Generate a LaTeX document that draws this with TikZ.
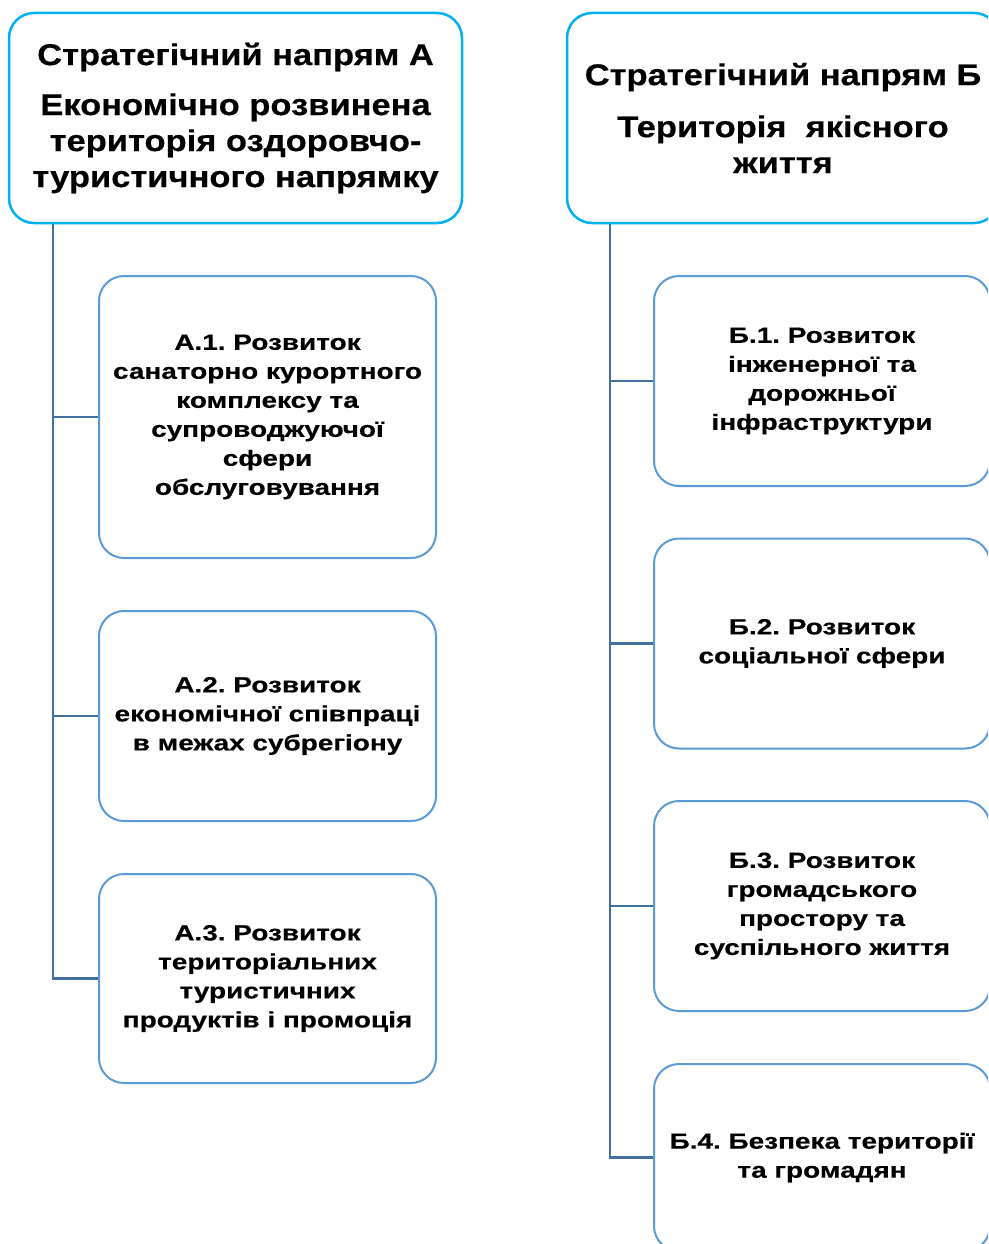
\documentclass[tikz,border=0pt]{standalone}
\usepackage{fontspec}
\setmainfont{Liberation Sans}
\newfontfamily\hdrfont[FakeStretch=1.15,FakeBold=0.4]{Liberation Sans Bold}
\newfontfamily\subfont[FakeStretch=1.27,FakeBold=0.4]{Liberation Sans Bold}
\definecolor{hdrc}{RGB}{0,176,240}
\definecolor{boxc}{RGB}{91,155,213}
\definecolor{conc}{RGB}{65,113,156}
\tikzset{
  hdr/.style={draw=hdrc, line width=2.5pt, rounded corners=25pt, align=center, inner sep=0pt, font=\hdrfont\fontsize{30}{36}\selectfont\frenchspacing},
  sub/.style={draw=boxc, line width=2pt, rounded corners=25pt, align=center, inner sep=0pt, font=\subfont\fontsize{22}{29}\selectfont\frenchspacing},
  conn/.style={draw=conc, line width=2.5pt}
}
\begin{document}
\begin{tikzpicture}[x=1pt,y=-1pt]
\useasboundingbox (0,0) rectangle (988,1244);
\clip (0,0) rectangle (988,1244);
\fill[white] (0,0) rectangle (988,1244);
% headers
\node[hdr, minimum width=453pt, minimum height=210pt] (hA) at (235.5,118) {Стратегічний напрям А\\[14pt] Економічно розвинена\\територія оздоровчо-\\туристичного напрямку};
\node[hdr, minimum width=432pt, minimum height=210pt] (hB) at (783,118) {Стратегічний напрям Б\\[16pt]Територія\ \ якісного\\життя};
% left children
\node[sub, minimum width=337pt, minimum height=282pt] (a1) at (267.5,417) {А.1. Розвиток\\санаторно курортного\\комплексу та\\супроводжуючої\\сфери\\обслуговування};
\node[sub, minimum width=337pt, minimum height=210pt] (a2) at (267.5,716) {А.2. Розвиток\\економічної співпраці\\в межах субрегіону};
\node[sub, minimum width=337pt, minimum height=209pt] (a3) at (267.5,978.5) {А.3. Розвиток\\територіальних\\туристичних\\продуктів і промоція};
% right children
\node[sub, minimum width=336pt, minimum height=210pt] (b1) at (822,381) {Б.1. Розвиток\\інженерної та\\дорожньої\\інфраструктури};
\node[sub, minimum width=336pt, minimum height=210pt] (b2) at (822,643.5) {Б.2. Розвиток\\соціальної сфери};
\node[sub, minimum width=336pt, minimum height=210pt] (b3) at (822,906) {Б.3. Розвиток\\громадського\\простору та\\суспільного життя};
\node[sub, minimum width=336pt, minimum height=187pt] (b4) at (822,1157.5) {Б.4. Безпека території\\та громадян};
% connectors
\coordinate (sA) at ([xshift=45pt]hA.south west);
\coordinate (sB) at ([xshift=44pt]hB.south west);
\draw[conn] (sA) |- (a3.west);
\draw[conn] (a1.west) -- (a1.west -| sA);
\draw[conn] (a2.west) -- (a2.west -| sA);
\draw[conn] (sB) |- (b4.west);
\draw[conn] (b1.west) -- (b1.west -| sB);
\draw[conn] (b2.west) -- (b2.west -| sB);
\draw[conn] (b3.west) -- (b3.west -| sB);
\end{tikzpicture}
\end{document}
